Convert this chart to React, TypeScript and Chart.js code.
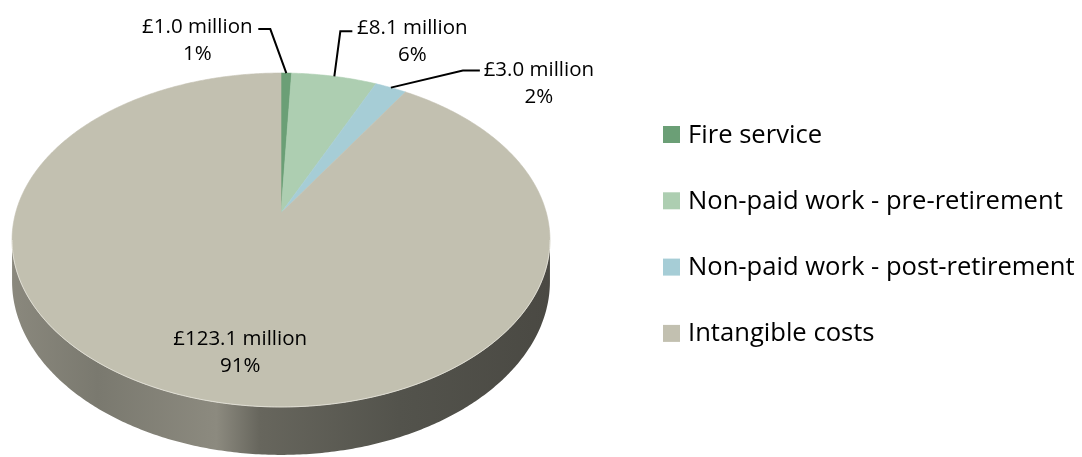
import { useEffect, useRef } from "react";
import { Chart, registerables } from "chart.js";

Chart.register(...registerables);

// Cost breakdown (£ million)
const categories = [
  "Fire service",
  "Non-paid work - pre-retirement",
  "Non-paid work - post-retirement",
  "Intangible costs",
];
const costMillions = [1.0, 8.1, 3.0, 123.1];
const sliceColours = ["#6b9f76", "#adceb1", "#a6cdd6", "#c2c0b0"];

// Tilted-disc view: centre, half-axes, perspective strength and wall height
const VIEW = { cx: 281, cy: 213, ax: 265.4, by: 162.6, persp: 0.1617, depth: 40.2 };

// Where each value label sits relative to its slice anchor (r = fraction of radius)
const labelLayout = [
  { r: 1, dx: -89, dy: -40, leader: [[-16, -44], [-28, -44]] },
  { r: 1, dx: 78, dy: -42, leader: [[6, -45], [18, -45]] },
  { r: 1, dx: 148, dy: -12, leader: [[72, -17], [89, -17]] },
  { r: 0.7, dx: 17, dy: 9, leader: [] as number[][] },
];

// Side wall shading: position along the wall (0..1) and brightness factor
const wallStops = [
  [0, 0.71],
  [0.16, 0.63],
  [0.38, 0.72],
  [0.46, 0.53],
  [0.72, 0.43],
  [1, 0.38],
];

const LABEL_FONT = "20.5px 'Open Sans'";
const LEGEND_FONT = "25.6px 'Open Sans'";

function project(theta: number, r: number, d: number): [number, number] {
  const u = r * Math.sin(theta);
  const v = r * Math.cos(theta);
  const w = 1 + VIEW.persp * v;
  return [VIEW.cx + (VIEW.ax * u) / w, VIEW.cy - (VIEW.by * v) / w + (VIEW.depth * d) / w];
}

function hexToRgb(hex: string): [number, number, number] {
  const n = parseInt(hex.slice(1), 16);
  return [(n >> 16) & 255, (n >> 8) & 255, n & 255];
}

function shade(hex: string, f: number): string {
  const [r, g, b] = hexToRgb(hex);
  return `rgb(${Math.round(r * f)},${Math.round(g * f)},${Math.round(b * f)})`;
}

function traceArc(ctx: CanvasRenderingContext2D, a: number, b: number, d: number, first: boolean) {
  const steps = Math.max(2, Math.ceil(Math.abs(b - a) / 0.01));
  for (let k = 0; k <= steps; k++) {
    const t = a + ((b - a) * k) / steps;
    const [x, y] = project(t, 1, d);
    if (k === 0 && first) ctx.moveTo(x, y);
    else ctx.lineTo(x, y);
  }
}

const pie3d = {
  id: "pie3d",
  beforeDatasetsDraw(chart: any) {
    const ctx: CanvasRenderingContext2D = chart.ctx;
    const meta = chart.getDatasetMeta(0);
    const colours = chart.data.datasets[0].backgroundColor as string[];
    const t1 = Math.acos(-VIEW.persp);
    const t2 = 2 * Math.PI - t1;
    const left = project(t2, 1, 0)[0];
    const right = project(t1, 1, 0)[0];

    ctx.save();
    // outer wall
    meta.data.forEach((el: any, i: number) => {
      const s = el.startAngle + Math.PI / 2;
      const e = el.endAngle + Math.PI / 2;
      const a = Math.max(s, t1);
      const b = Math.min(e, t2);
      if (a >= b) return;
      const grad = ctx.createLinearGradient(left, 0, right, 0);
      wallStops.forEach(([p, f]) => grad.addColorStop(p, shade(colours[i], f)));
      ctx.beginPath();
      traceArc(ctx, a, b, 0, true);
      traceArc(ctx, b, a, 1, false);
      ctx.closePath();
      ctx.fillStyle = grad;
      ctx.fill();
    });

    // top face
    meta.data.forEach((el: any, i: number) => {
      const s = el.startAngle + Math.PI / 2;
      const e = el.endAngle + Math.PI / 2;
      const [x0, y0] = project(0, 0, 0);
      ctx.beginPath();
      ctx.moveTo(x0, y0);
      traceArc(ctx, s, e, 0, false);
      ctx.closePath();
      ctx.fillStyle = colours[i];
      ctx.fill();
      ctx.strokeStyle = colours[i];
      ctx.lineWidth = 0.6;
      ctx.stroke();
    });

    // soft highlight on the front rim
    ctx.beginPath();
    traceArc(ctx, t1, t2, 0, true);
    ctx.strokeStyle = "rgba(235,234,225,0.7)";
    ctx.lineWidth = 1;
    ctx.stroke();
    ctx.restore();
    return false;
  },
  afterDraw(chart: any) {
    const ctx: CanvasRenderingContext2D = chart.ctx;
    const meta = chart.getDatasetMeta(0);
    const values = chart.data.datasets[0].data as number[];
    const total = values.reduce((s, v) => s + v, 0);

    ctx.save();
    meta.data.forEach((el: any, i: number) => {
      const mid = (el.startAngle + el.endAngle) / 2 + Math.PI / 2;
      const lay = labelLayout[i];
      const [ax, ay] = project(mid, lay.r, 0);
      if (lay.leader.length) {
        ctx.beginPath();
        ctx.moveTo(ax, ay);
        lay.leader.forEach(([dx, dy]) => ctx.lineTo(ax + dx, ay + dy));
        ctx.strokeStyle = "#000";
        ctx.lineWidth = 2;
        ctx.lineJoin = "miter";
        ctx.stroke();
      }
      ctx.fillStyle = "#000";
      ctx.font = LABEL_FONT;
      ctx.textAlign = "center";
      ctx.textBaseline = "alphabetic";
      const v = values[i];
      ctx.fillText(`£${v.toFixed(1)} million`, ax + lay.dx, ay + lay.dy);
      ctx.fillText(`${Math.round((v / total) * 100)}%`, ax + lay.dx, ay + lay.dy + 27);
    });

    // legend
    const colours = chart.data.datasets[0].backgroundColor as string[];
    chart.data.labels.forEach((label: string, i: number) => {
      const yc = 134.5 + i * 66.3;
      ctx.fillStyle = colours[i];
      ctx.fillRect(663, yc - 8.5, 17, 17);
      ctx.fillStyle = "#000";
      ctx.font = LEGEND_FONT;
      ctx.textAlign = "left";
      ctx.fillText(label, 688, yc + 8);
    });
    ctx.restore();
  },
};

export default function App() {
  const canvasRef = useRef<HTMLCanvasElement | null>(null);

  useEffect(() => {
    const canvas = canvasRef.current;
    if (!canvas) return;
    const chart = new Chart(canvas, {
      type: "pie",
      data: {
        labels: categories,
        datasets: [
          {
            data: costMillions,
            backgroundColor: sliceColours,
            borderWidth: 0,
          },
        ],
      },
      options: {
        animation: false,
        responsive: false,
        events: [],
        plugins: {
          legend: { display: false },
          tooltip: { enabled: false },
        },
      },
      plugins: [pie3d],
    });
    return () => chart.destroy();
  }, []);

  return (
    <div style={{ position: "absolute", left: 0, top: 0, width: 1082, height: 457, background: "#fff" }}>
      <canvas ref={canvasRef} width={1082} height={457} />
    </div>
  );
}
